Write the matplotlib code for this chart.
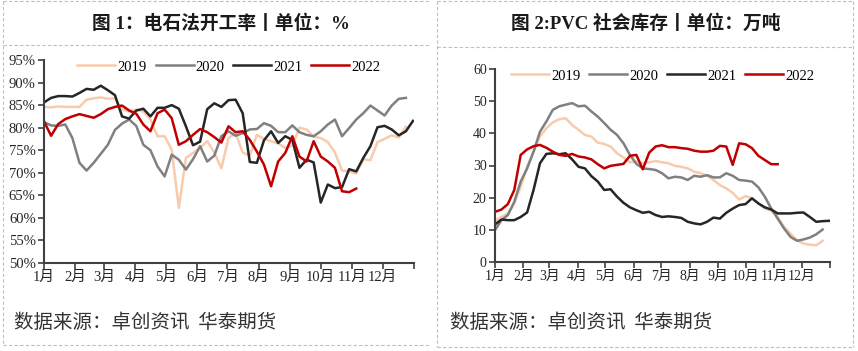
import matplotlib
matplotlib.use("Agg")
import matplotlib.pyplot as plt
import numpy as np
from matplotlib.lines import Line2D
from matplotlib.ticker import FuncFormatter

# weekly values, week 0 = early January
years = ["2019", "2020", "2021", "2022"]
colors = ["#F8CBAD", "#808080", "#262626", "#C00000"]

rate_2019 = [84.6, 84.5, 84.7, 84.6, 84.6, 84.6, 86.2, 86.5, 86.7, 86.4, 86.5,
             84.0, 83.6, 84.0, 83.6, 81.8, 78.1, 78.1, 75.1, 62.2, 73.3, 74.4,
             75.5, 77.0, 74.5, 71.0, 77.7, 78.8, 74.5, 73.8, 78.4, 77.5, 77.0,
             76.5, 75.5, 76.0, 80.0, 79.6, 78.0, 77.7, 76.8, 74.5, 70.5, 70.3,
             69.8, 73.0, 72.8, 76.8, 77.5, 78.3, 77.8, 80.2]
rate_2020 = [81.2, 80.5, 80.4, 80.7, 77.7, 72.2, 70.5, 72.2, 74.2, 76.2, 79.5,
             80.9, 81.8, 80.4, 76.2, 75.0, 71.4, 69.2, 74.0, 72.9, 70.7, 73.0,
             75.9, 72.5, 73.8, 78.1, 79.2, 78.2, 78.8, 79.6, 79.7, 81.0, 80.4,
             79.0, 79.0, 80.5, 79.0, 78.4, 78.1, 79.2, 80.7, 81.8, 78.1, 79.9,
             81.8, 83.2, 84.9, 83.8, 82.7, 84.9, 86.4, 86.6]
rate_2021 = [85.6, 86.6, 87.0, 87.0, 86.9, 87.7, 88.6, 88.4, 89.3, 88.3, 87.2,
             82.5, 82.0, 83.8, 84.2, 82.5, 84.4, 84.4, 85.0, 84.2, 80.3, 76.1,
             76.9, 84.1, 85.4, 84.6, 86.1, 86.2, 83.2, 72.4, 72.2, 77.2, 79.2,
             76.6, 78.1, 77.3, 71.1, 72.9, 72.3, 63.4, 67.4, 66.6, 66.8, 70.8,
             70.3, 73.3, 75.9, 80.1, 80.4, 79.6, 78.3, 79.2, 81.5]
rate_2022 = [81.4, 78.2, 80.8, 81.9, 82.5, 83.0, 82.6, 82.2, 83.0, 84.1, 84.6,
             84.9, 83.8, 83.1, 80.7, 79.2, 83.2, 84.0, 82.1, 76.2, 77.0, 78.4,
             79.7, 79.0, 77.9, 76.7, 80.3, 79.0, 79.2, 77.3, 74.7, 71.8, 67.0,
             72.5, 74.4, 78.1, 73.6, 72.5, 77.0, 73.6, 72.5, 71.1, 65.9, 65.7,
             66.5]

stock_2019 = [12.9, 14.0, 15.1, 18.2, 23.4, 29.6, 34.3, 39.0, 41.6, 43.4, 44.4,
              44.7, 42.6, 41.1, 39.5, 39.0, 37.1, 36.7, 35.9, 33.8, 32.5, 31.0,
              31.2, 30.7, 31.0, 31.4, 31.0, 30.7, 29.9, 29.6, 29.1, 28.1, 27.6,
              26.8, 25.5, 23.9, 22.9, 21.5, 19.4, 20.5, 19.8, 18.2, 16.6, 16.1,
              14.0, 10.9, 8.8, 6.8, 5.7, 5.4, 5.2, 6.6]
stock_2020 = [9.9, 13.0, 14.6, 18.7, 25.0, 29.1, 34.3, 40.5, 43.7, 47.3, 48.4,
              48.9, 49.4, 48.4, 48.6, 46.8, 45.2, 43.2, 41.1, 39.5, 36.9, 33.3,
              30.5, 29.1, 28.9, 28.6, 27.6, 26.0, 26.5, 26.3, 25.5, 26.8, 26.5,
              27.0, 26.3, 26.3, 27.6, 26.8, 25.5, 25.3, 25.0, 23.2, 20.3, 16.6,
              13.5, 10.4, 7.8, 6.6, 7.0, 7.6, 8.6, 10.1]
stock_2021 = [11.7, 13.2, 13.0, 13.0, 14.0, 15.4, 22.4, 30.7, 33.6, 33.8, 33.5,
              33.8, 31.9, 29.6, 29.1, 26.7, 25.0, 22.4, 22.6, 20.3, 18.4, 17.0,
              16.1, 15.3, 15.6, 14.6, 14.0, 14.2, 14.0, 13.7, 12.5, 12.0, 11.7,
              12.5, 13.8, 13.5, 15.3, 16.6, 17.7, 18.0, 19.8, 18.2, 17.0, 16.3,
              15.1, 15.1, 15.1, 15.3, 15.4, 14.0, 12.5, 12.7, 12.8]
stock_2022 = [15.6, 16.3, 18.0, 22.4, 33.3, 35.0, 36.0, 36.4, 35.5, 34.3, 33.3,
              33.0, 33.6, 32.8, 32.5, 31.9, 30.4, 29.1, 29.9, 30.2, 30.5, 33.0,
              33.3, 28.8, 34.0, 35.9, 36.3, 35.7, 35.7, 35.4, 35.2, 34.6, 34.3,
              34.3, 34.6, 36.1, 35.9, 30.2, 36.9, 36.6, 35.4, 33.0, 31.7, 30.4,
              30.4]

month_starts = [0, 31, 59, 90, 120, 151, 181, 212, 243, 273, 304, 334, 365]
month_labels = ["1月", "2月", "3月", "4月", "5月", "6月", "7月", "8月", "9月",
                "10月", "11月", "12月", ""]

TICK_FONT = ["Liberation Serif", "Noto Sans CJK SC"]
CJK_FONT = ["Noto Sans CJK SC", "DejaVu Sans"]
AXIS_COLOR = "#404040"
BORDER_COLOR = "#BFBFBF"


def style_axes(ax, ylim, yticks, fmt, labelsize):
    for side in ["top", "right"]:
        ax.spines[side].set_visible(False)
    for side in ["left", "bottom"]:
        ax.spines[side].set_color(AXIS_COLOR)
        ax.spines[side].set_linewidth(1.5)
    ax.set_xlim(0, 365)
    ax.set_ylim(*ylim)
    ax.set_xticks(month_starts)
    ax.set_xticklabels(month_labels)
    ax.set_yticks(yticks)
    ax.yaxis.set_major_formatter(FuncFormatter(fmt))
    ax.tick_params(direction="out", length=4, width=1.2, color=AXIS_COLOR,
                   labelsize=labelsize, labelcolor="#262626", pad=2)
    for label in ax.get_xticklabels() + ax.get_yticklabels():
        label.set_family(TICK_FONT)
    ax.set_facecolor("none")


def plot_series(ax, series, legend_y):
    handles = []
    for name, values, color in zip(years, series, colors):
        days = np.arange(len(values)) * 7
        (line,) = ax.plot(days, values, color=color, linewidth=1.8, label=name)
        handles.append(line)
    ax.legend(handles=handles, loc="center", bbox_to_anchor=(0.5, legend_y),
              ncol=4, frameon=False, handlelength=2.6, handletextpad=0.15,
              columnspacing=0.6, prop={"family": "Liberation Serif", "size": 10.5})


def fig_line(fig, x0, y0, x1, y1, **kw):
    w, h = 858.0, 351.0
    fig.add_artist(Line2D([x0 / w, x1 / w], [1 - y0 / h, 1 - y1 / h],
                          transform=fig.transFigure, **kw))


fig = plt.figure(figsize=(8.58, 3.51), dpi=100)
fig.patch.set_facecolor("white")

# dashed panel borders
dash = dict(color=BORDER_COLOR, linewidth=0.8, linestyle=(0, (3, 2)))
fig_line(fig, 3, 1, 430, 1, **dash)
fig_line(fig, 3, 1, 3, 345, **dash)
fig_line(fig, 3, 45, 430, 45, **dash)
fig_line(fig, 3, 345, 430, 345, **dash)
fig_line(fig, 437, 1, 853, 1, **dash)
fig_line(fig, 437, 1, 437, 347, **dash)
fig_line(fig, 437, 47, 853, 47, **dash)
fig_line(fig, 437, 347, 853, 347, **dash)
fig_line(fig, 853, 1, 853, 347, **dash)

ax1 = fig.add_axes([44 / 858, 1 - 263 / 351, 370 / 858, 203 / 351])
plot_series(ax1, [rate_2019, rate_2020, rate_2021, rate_2022], 0.966)
style_axes(ax1, (50, 95), np.arange(50, 96, 5), lambda v, p: f"{v:.0f}%", 10.5)

ax2 = fig.add_axes([495 / 858, 1 - 262 / 351, 335 / 858, 193 / 351])
plot_series(ax2, [stock_2019, stock_2020, stock_2021, stock_2022], 0.964)
style_axes(ax2, (0, 60), np.arange(0, 61, 10), lambda v, p: f"{v:.0f}", 10)

title_font = dict(family=["Liberation Serif", "Noto Sans CJK SC"],
                  fontsize=13.5, fontweight="bold", color="#1a1a1a",
                  ha="center", va="center")
fig.text(221 / 858, 1 - 24 / 351, "图 1：电石法开工率丨单位：%", **title_font)
fig.text(646 / 858, 1 - 24 / 351, "图 2:PVC 社会库存丨单位：万吨", **title_font)

foot_font = dict(family=CJK_FONT, fontsize=14, color="#333333",
                 ha="left", va="center")
fig.text(14 / 858, 1 - 322 / 351, "数据来源：卓创资讯  华泰期货", **foot_font)
fig.text(450 / 858, 1 - 322 / 351, "数据来源：卓创资讯  华泰期货", **foot_font)

fig.savefig("out.png", dpi=100)
